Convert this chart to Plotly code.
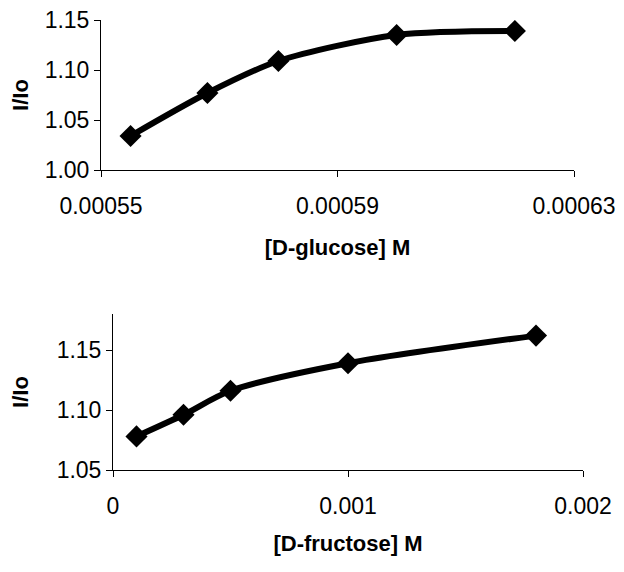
import plotly.graph_objects as go

# Data
glucose_conc = [0.000555, 0.000568, 0.000580, 0.000600, 0.000620]
glucose_ratio = [1.034, 1.077, 1.109, 1.135, 1.139]

fructose_conc = [0.0001, 0.0003, 0.0005, 0.0010, 0.0018]
fructose_ratio = [1.078, 1.096, 1.116, 1.139, 1.162]

glucose_xticks = [0.00055, 0.00059, 0.00063]
glucose_xticktext = ["0.00055", "0.00059", "0.00063"]
glucose_yticks = [1.00, 1.05, 1.10, 1.15]
glucose_yticktext = ["1.00", "1.05", "1.10", "1.15"]

fructose_xticks = [0, 0.001, 0.002]
fructose_xticktext = ["0", "0.001", "0.002"]
fructose_yticks = [1.05, 1.10, 1.15]
fructose_yticktext = ["1.05", "1.10", "1.15"]

W, H = 624, 572
OFF = 8  # page body margin
FONT = "Liberation Sans, Arial, sans-serif"


def xd(a, b):
    return [(a - OFF) / W, (b - OFF) / W]


def yd(top, bottom):
    return [1 - (bottom - OFF) / H, 1 - (top - OFF) / H]


fig = go.Figure()

marker = dict(symbol="diamond", size=17, color="black")
line = dict(color="black", width=6, shape="spline", smoothing=0.8)

fig.add_trace(go.Scatter(x=glucose_conc, y=glucose_ratio, mode="lines+markers",
                         line=line, marker=marker, xaxis="x", yaxis="y",
                         showlegend=False))
fig.add_trace(go.Scatter(x=fructose_conc, y=fructose_ratio, mode="lines+markers",
                         line=line, marker=marker, xaxis="x2", yaxis="y2",
                         showlegend=False))

axis_common = dict(showgrid=False, zeroline=False, showline=True, linecolor="black",
                   linewidth=1, ticks="outside", ticklen=6, tickcolor="black",
                   automargin=False, ticklabeloverflow="allow",
                   tickfont=dict(family=FONT, size=23, color="black"))
title_font = dict(family=FONT, size=22, color="black")

fig.update_layout(
    width=W, height=H,
    margin=dict(l=0, r=0, t=0, b=0),
    paper_bgcolor="white", plot_bgcolor="white",
    font=dict(family=FONT, color="black"),
    xaxis=dict(domain=xd(101, 574), anchor="y", range=[0.00055, 0.0006300001],
               tickvals=glucose_xticks, ticktext=glucose_xticktext,
               ticklabelstandoff=9,
               title=dict(text="<b>[D-glucose] M</b>", font=title_font, standoff=22),
               **axis_common),
    yaxis=dict(domain=yd(20, 170), anchor="x", range=[1.00, 1.1500001],
               tickvals=glucose_yticks, ticktext=glucose_yticktext,
               title=dict(text="<b>I/Io</b>", font=title_font, standoff=14),
               **axis_common),
    xaxis2=dict(domain=xd(113, 583), anchor="y2", range=[0, 0.002],
                tickvals=fructose_xticks, ticktext=fructose_xticktext,
                ticklabelstandoff=9,
                title=dict(text="<b>[D-fructose] M</b>", font=title_font, standoff=18),
                **axis_common),
    yaxis2=dict(domain=yd(314, 470), anchor="x2", range=[1.05, 1.18],
                tickvals=fructose_yticks, ticktext=fructose_yticktext,
                title=dict(text="<b>I/Io</b>", font=title_font, standoff=26),
                **axis_common),
)

fig.write_html("out.html")
